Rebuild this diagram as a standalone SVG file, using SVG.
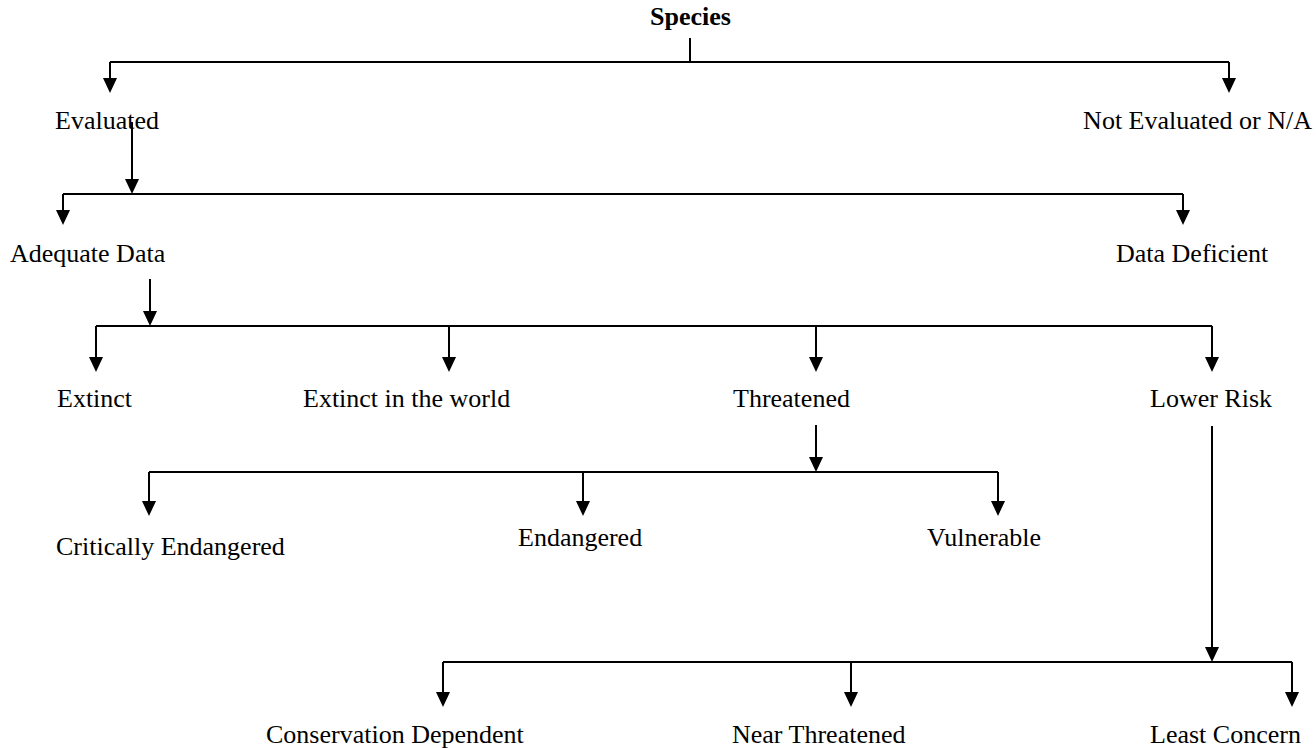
<svg xmlns="http://www.w3.org/2000/svg" width="1316" height="748" viewBox="0 0 1316 748">
<style>
text{font-family:"Liberation Serif","Times New Roman",serif;font-size:26px;fill:#000}
.b{font-weight:bold}
.ln{fill:none;stroke:#000;stroke-width:2}
.ar{fill:none;stroke:#000;stroke-width:2;marker-end:url(#ah)}
</style>
<defs>
<marker id="ah" markerUnits="userSpaceOnUse" viewBox="0 0 15 14" refX="10" refY="7" markerWidth="15" markerHeight="14" orient="auto">
<path d="M0,0 L15,7 L0,14 z" fill="#000"/>
</marker>
</defs>
<rect width="1316" height="748" fill="#fff"/>
<g id="connectors">
<path class="ln" d="M690,38 V62 M110,62 H1229"/>
<path class="ar" d="M110,62 V88"/>
<path class="ar" d="M1229,62 V88"/>
<path class="ar" d="M132,122 V189"/>
<path class="ln" d="M63,194 H1183"/>
<path class="ar" d="M63,194 V220"/>
<path class="ar" d="M1183,194 V220"/>
<path class="ar" d="M150,279 V321"/>
<path class="ln" d="M96,326 H1212"/>
<path class="ar" d="M96,326 V367"/>
<path class="ar" d="M449,326 V367"/>
<path class="ar" d="M816,326 V367"/>
<path class="ar" d="M1212,326 V367"/>
<path class="ar" d="M816,425 V467"/>
<path class="ln" d="M149,472 H998"/>
<path class="ar" d="M149,472 V511"/>
<path class="ar" d="M583,472 V511"/>
<path class="ar" d="M998,472 V511"/>
<path class="ar" d="M1212,426 V657"/>
<path class="ln" d="M443,662 H1292"/>
<path class="ar" d="M443,662 V702"/>
<path class="ar" d="M851,662 V702"/>
<path class="ar" d="M1292,662 V702"/>
</g>
<g id="species"><text class="b" x="650" y="25">Species</text></g>
<g id="evaluated"><text x="55" y="129">Evaluated</text></g>
<g id="not-evaluated"><text x="1312" y="129" text-anchor="end">Not Evaluated or N/A</text></g>
<g id="adequate-data"><text x="10" y="262">Adequate Data</text></g>
<g id="data-deficient"><text x="1116" y="262">Data Deficient</text></g>
<g id="extinct"><text x="57" y="407">Extinct</text></g>
<g id="extinct-world"><text x="303" y="407">Extinct in the world</text></g>
<g id="threatened"><text x="733" y="407">Threatened</text></g>
<g id="lower-risk"><text x="1150" y="407">Lower Risk</text></g>
<g id="critically-endangered"><text x="56" y="555">Critically Endangered</text></g>
<g id="endangered"><text x="518" y="546">Endangered</text></g>
<g id="vulnerable"><text x="927" y="546">Vulnerable</text></g>
<g id="conservation-dependent"><text x="266" y="743">Conservation Dependent</text></g>
<g id="near-threatened"><text x="732" y="743">Near Threatened</text></g>
<g id="least-concern"><text x="1150" y="743">Least Concern</text></g>
</svg>
